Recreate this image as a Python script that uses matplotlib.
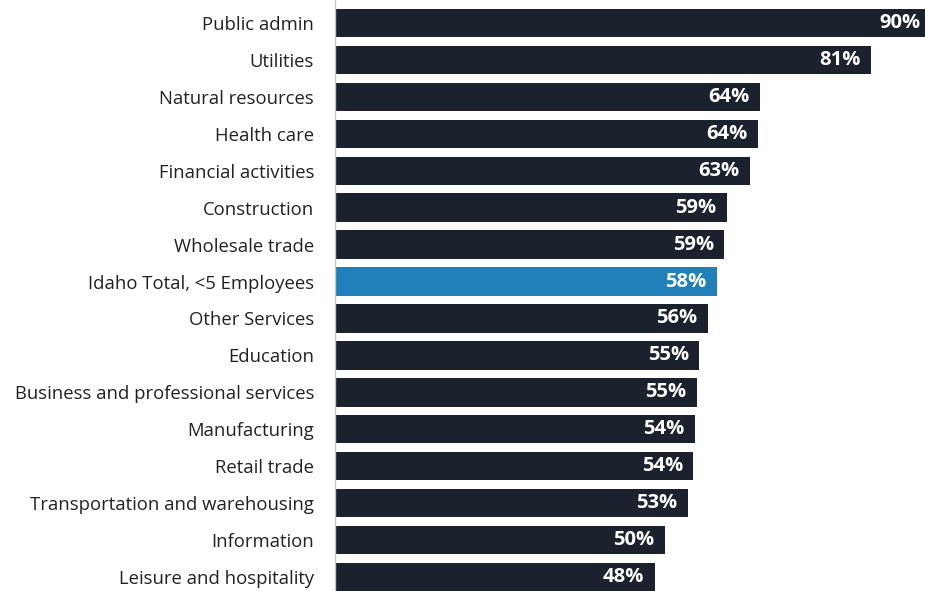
import matplotlib.pyplot as plt

# Share of businesses by industry (Idaho, <5 employees)
categories = [
    "Public admin", "Utilities", "Natural resources", "Health care",
    "Financial activities", "Construction", "Wholesale trade",
    "Idaho Total, <5 Employees", "Other Services", "Education",
    "Business and professional services", "Manufacturing", "Retail trade",
    "Transportation and warehousing", "Information", "Leisure and hospitality",
]
values = [90.0, 81.0, 64.2, 63.9, 62.7, 59.2, 58.8, 57.7, 56.3, 55.0,
          54.6, 54.4, 54.1, 53.3, 49.8, 48.3]
highlight = "Idaho Total, <5 Employees"

dark = "#1b222d"
blue = "#2180b9"
colors = [blue if c == highlight else dark for c in categories]

plt.rcParams["font.family"] = ["Open Sans", "DejaVu Sans"]

fig = plt.figure(figsize=(9.25, 5.91), dpi=100)
ax = fig.add_axes([335 / 925, 0, 1 - 335 / 925, 1])

pos = list(range(len(categories)))
ax.barh(pos, values, height=0.77, color=colors)

for y, v in zip(pos, values):
    ax.annotate(f"{v:.0f}%", xy=(v, y), xytext=(-7.5, 0), textcoords="offset points",
                ha="right", va="center", color="white", fontsize=14.5,
                fontweight="bold", annotation_clip=False)

ax.set_xlim(0, 89.1)
ax.set_ylim(15.38, -0.623)
ax.set_yticks(pos)
ax.set_yticklabels(categories, fontsize=13.3, color="#222222")
ax.tick_params(axis="y", length=0, pad=15)
ax.set_xticks([])

for side in ["top", "right", "bottom"]:
    ax.spines[side].set_visible(False)
ax.spines["left"].set_color("#c8c8c8")
ax.spines["left"].set_linewidth(1)

plt.savefig("out.png", dpi=100)
plt.close()
